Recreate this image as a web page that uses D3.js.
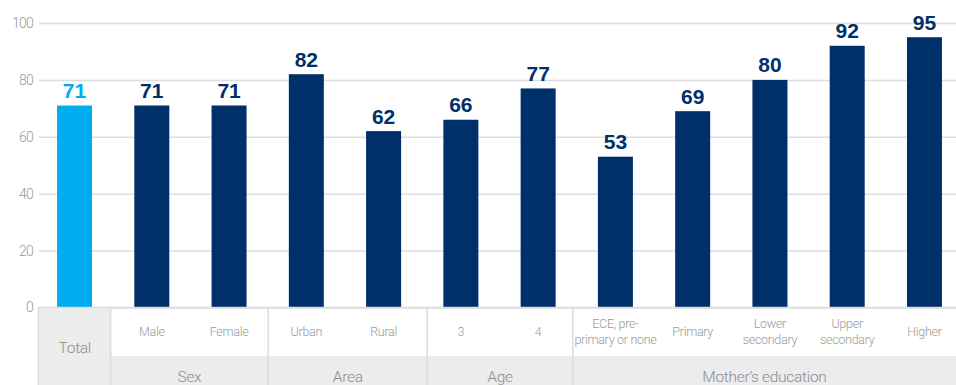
<!DOCTYPE html>
<html><head><meta charset="utf-8">
<script src="https://cdn.jsdelivr.net/npm/d3@7"></script>
<style>html,body{margin:0;padding:0;background:#fff;}svg{display:block;}</style>
</head><body>
<svg id="chart" width="956" height="385"></svg>
<script>
const categories = ["Total","Male","Female","Urban","Rural","3","4","ECE, pre-\nprimary or none","Primary","Lower\nsecondary","Upper\nsecondary","Higher"];
const values = [71,71,71,82,62,66,77,53,69,80,92,95];
const groupNames = ["Total","Sex","Area","Age","Mother’s education"];
const groupSizes = [1,2,2,2,5];
const yTicks = [0,20,40,60,80,100];

(function(){
const W = 956, H = 385;
const left = 39, right = 956, plotTop = 23, base = 307.5;
const svg = d3.select("#chart");

const x = d3.scaleBand().domain(categories).range([35.9, 963.1]).paddingInner(0.547).paddingOuter(0.2735);
const y = d3.scaleLinear().domain([0,100]).range([base, plotTop]);

const lightFont = "Roboto, 'Noto Sans', sans-serif";

// gridlines & ticks
const yAxis = d3.axisLeft(y).tickValues(yTicks).tickSize(-(right-left)).tickPadding(6);
const gAx = svg.append("g").attr("transform", `translate(${left},0)`).call(yAxis);
gAx.select(".domain").remove();
gAx.selectAll(".tick line").attr("stroke", "#dedede").attr("stroke-width", 1.5);
gAx.selectAll(".tick text").attr("fill", "#999").attr("font-family", lightFont)
  .attr("font-weight", 300).attr("font-size", 14).attr("letter-spacing", -0.8).attr("x", -6);

// bars
svg.append("g").selectAll("rect").data(values).join("rect")
  .attr("x", (d,i) => x(categories[i]))
  .attr("width", x.bandwidth())
  .attr("y", d => y(d))
  .attr("height", d => y(0) - y(d))
  .attr("fill", (d,i) => i === 0 ? "#00AEEF" : "#00306A");

// value labels
svg.append("g").selectAll("text").data(values).join("text")
  .attr("x", (d,i) => x(categories[i]) + x.bandwidth()/2)
  .attr("y", d => y(d) - 7.5)
  .attr("text-anchor", "middle")
  .attr("font-family", "'Liberation Sans', Arial, sans-serif")
  .attr("font-weight", 700).attr("font-size", 21)
  .attr("fill", (d,i) => i === 0 ? "#00AEEF" : "#00306A")
  .text(d => d);

// table
const step = x.step();
const centers = categories.map(c => x(c) + x.bandwidth()/2);
const rowMid = 356;
const tbl = svg.append("g");
const nudge = [-2.5, 0.5, 5, -4];

let idx = 0;
const groupBounds = groupSizes.map((s, gi) => {
  const first = idx, last = idx + s - 1; idx += s;
  const x0 = gi === 0 ? left : (centers[first] - step/2 + nudge[gi-1]);
  const x1 = gi === groupSizes.length - 1 ? right : (centers[last] + step/2 + nudge[gi]);
  return {name: groupNames[gi], x0, x1, first, last};
});

// gray fills
tbl.append("rect").attr("x", left).attr("y", base).attr("width", groupBounds[0].x1 - left).attr("height", H - base).attr("fill", "#ececec");
tbl.append("rect").attr("x", groupBounds[1].x0).attr("y", rowMid).attr("width", right - groupBounds[1].x0).attr("height", H - rowMid).attr("fill", "#ececec");

// separators
tbl.selectAll("line.sep").data(groupBounds.slice(1)).join("line")
  .attr("x1", d => d.x0).attr("x2", d => d.x0).attr("y1", base).attr("y2", H)
  .attr("stroke", "#dcdcdc").attr("stroke-width", 1.5);
tbl.append("line").attr("x1", left - 0.5).attr("x2", left - 0.5).attr("y1", base).attr("y2", H).attr("stroke", "#dcdcdc").attr("stroke-width", 1.5);
tbl.append("line").attr("x1", left - 1).attr("x2", right).attr("y1", base).attr("y2", base).attr("stroke", "#dcdcdc").attr("stroke-width", 1.5);

// category labels (skip Total)
categories.forEach((c, i) => {
  if (i === 0) return;
  const lines = c.split("\n");
  const t = tbl.append("text").attr("text-anchor", "middle")
    .attr("font-family", lightFont).attr("font-weight", 300).attr("font-size", 12.5)
    .attr("letter-spacing", -0.3).attr("fill", "#999");
  if (lines.length === 1) {
    t.append("tspan").attr("x", centers[i]).attr("y", 336).text(lines[0]);
  } else {
    lines.forEach((l, k) => t.append("tspan").attr("x", centers[i]).attr("y", 328 + k*16).text(l));
  }
});

// group labels
groupBounds.forEach((g, gi) => {
  tbl.append("text").attr("text-anchor", "middle")
    .attr("x", (g.x0 + g.x1)/2).attr("y", gi === 0 ? 353 : 382)
    .attr("font-family", lightFont).attr("font-weight", 300).attr("font-size", 15.5)
    .attr("letter-spacing", -0.3).attr("fill", "#8c8c8c").text(g.name);
});
})();
</script>
</body></html>
